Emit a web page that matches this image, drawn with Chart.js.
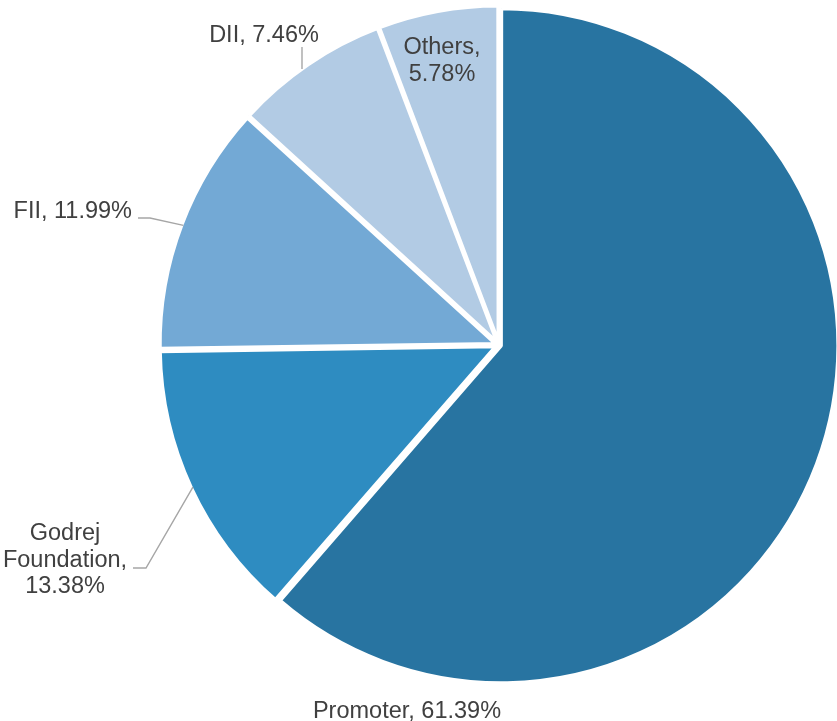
<!DOCTYPE html>
<html>
<head>
<meta charset="utf-8">
<script src="https://cdn.jsdelivr.net/npm/chart.js@4"></script>
<style>
  html, body { margin: 0; padding: 0; background: #ffffff; }
  #wrap { width: 837px; height: 721px; position: relative; }
</style>
</head>
<body>
<div id="wrap"><canvas id="c" width="837" height="721"></canvas></div>
<script>
// ---- data ----
const categories = ['Promoter', 'Godrej Foundation', 'FII', 'DII', 'Others'];
const shareValues = [61.39, 13.38, 11.99, 7.46, 5.78];
const labelLines = [
  ['Promoter, 61.39%'],
  ['Godrej', 'Foundation,', '13.38%'],
  ['FII, 11.99%'],
  ['DII, 7.46%'],
  ['Others,', '5.78%']
];
const sliceColors = ['#2874A1', '#2E8CC1', '#73A9D5', '#B2CBE4', '#B2CBE4'];

// ---- label layout (relative to pie centre) ----
const FONT_PX = 23.5;
const LINE_H = 26.5;
const EXPLODE = 4;      // px each slice is pulled out
const BORDER = 4;
const labelLayout = [
  { align: 'center', x: -92,  y: 373,  leader: null },
  { align: 'center', x: -434, y: 195,  leader: [[-366, 223], [-353, 223], 'edge'] },
  { align: 'right',  x: -367, y: -127, leader: [[-361, -127], [-349, -127], 'edge'] },
  { align: 'center', x: -235, y: -303, leader: [[-197, -298], [-197, -276]] },
  { align: 'center', x: -57,  y: -291, leader: null }
];

const total = shareValues.reduce((a, b) => a + b, 0);

const labelPlugin = {
  id: 'sliceLabels',
  afterDatasetsDraw(chart) {
    const meta = chart.getDatasetMeta(0);
    const ctx = chart.ctx;
    ctx.save();
    ctx.font = FONT_PX + 'px "Liberation Sans", Arial, sans-serif';
    ctx.fillStyle = '#404040';
    ctx.textBaseline = 'alphabetic';
    meta.data.forEach((arc, i) => {
      const cx = arc.x, cy = arc.y;
      const lay = labelLayout[i];
      const mid = (arc.startAngle + arc.endAngle) / 2;
      const rEdge = arc.outerRadius - BORDER / 2 + EXPLODE;
      const edge = [cx + Math.cos(mid) * rEdge, cy + Math.sin(mid) * rEdge];
      if (lay.leader) {
        ctx.beginPath();
        ctx.strokeStyle = '#A6A6A6';
        ctx.lineWidth = 1.4;
        lay.leader.forEach((p, k) => {
          const pt = p === 'edge' ? edge : [cx + p[0], cy + p[1]];
          if (k === 0) ctx.moveTo(pt[0], pt[1]); else ctx.lineTo(pt[0], pt[1]);
        });
        ctx.stroke();
      }
      ctx.textAlign = lay.align;
      labelLines[i].forEach((line, k) => {
        ctx.fillText(line, cx + lay.x, cy + lay.y + k * LINE_H);
      });
    });
    ctx.restore();
  }
};

new Chart(document.getElementById('c'), {
  type: 'pie',
  data: {
    labels: categories,
    datasets: [{
      data: shareValues,
      backgroundColor: sliceColors,
      borderColor: '#ffffff',
      borderWidth: BORDER,
      radius: 335.5,
      offset: (c) => {
        const v = c.dataset.data[c.dataIndex];
        const circ = v / total * 2 * Math.PI;
        const fix = 1 - Math.sin(Math.min(Math.PI, circ));
        return 4 * EXPLODE / (1 + fix);
      },
      hoverOffset: 0
    }]
  },
  options: {
    responsive: false,
    animation: false,
    devicePixelRatio: 1,
    layout: { padding: { left: 161, right: 0, top: 0, bottom: 31 } },
    plugins: {
      legend: { display: false },
      tooltip: { enabled: false }
    }
  },
  plugins: [labelPlugin]
});
</script>
</body>
</html>
